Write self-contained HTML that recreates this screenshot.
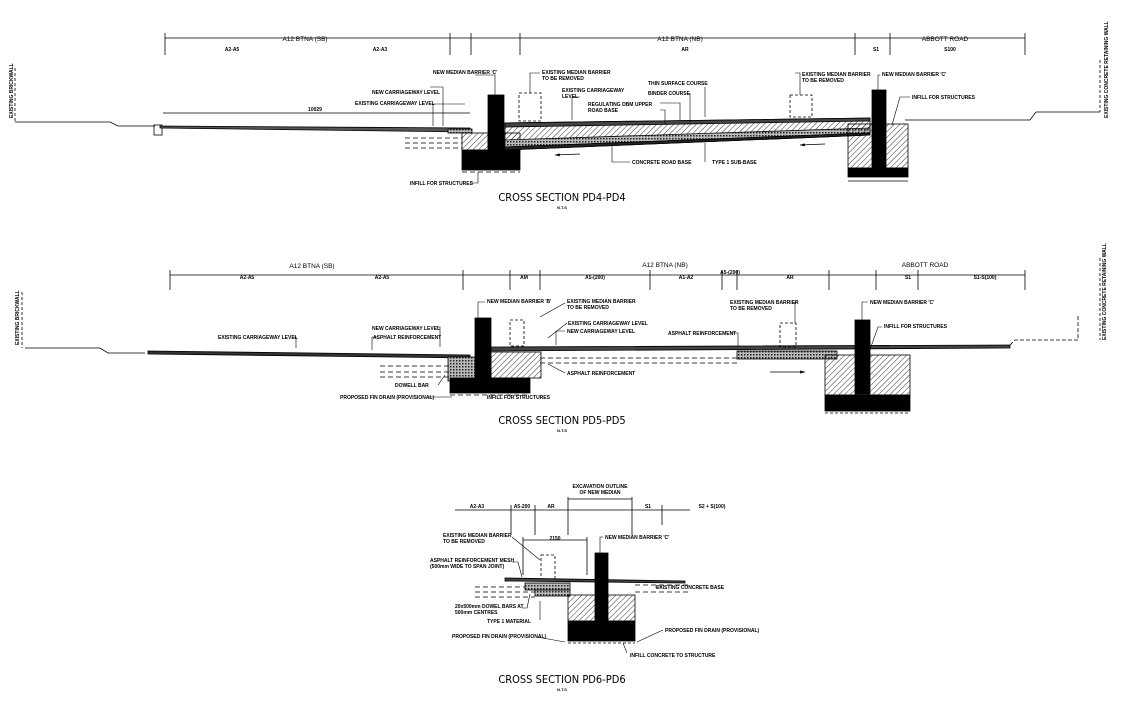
<!DOCTYPE html>
<html><head><meta charset="utf-8"><style>
html,body{margin:0;padding:0;background:#fff;}
svg{display:block}
text{font-family:"Liberation Sans",sans-serif;fill:#000}
.s{font-size:5px;font-weight:bold}
.m{font-size:6.5px}
.t{font-size:11px;font-family:"DejaVu Sans Condensed","Liberation Sans Narrow","Liberation Sans",sans-serif}
</style></head><body>
<svg width="1144" height="701" viewBox="0 0 1144 701" xmlns="http://www.w3.org/2000/svg">
<defs>
<pattern id="h" width="4" height="4" patternUnits="userSpaceOnUse" patternTransform="rotate(45)"><line x1="0" y1="0" x2="0" y2="4" stroke="#000" stroke-width="0.8"/></pattern>
<pattern id="d" width="3" height="3" patternUnits="userSpaceOnUse"><rect width="3" height="3" fill="#bbb"/><rect width="1.5" height="1.5" fill="#222"/></pattern>
<marker id="ar" markerWidth="6" markerHeight="4" refX="6" refY="2" orient="auto"><path d="M0 0 L6 2 L0 4 Z" fill="#000"/></marker>
</defs>
<g stroke="#000" fill="none" stroke-width="0.8">
<!-- ===== SECTION 1 ===== -->
<line x1="165" y1="38" x2="1025" y2="38"/>
<g><line x1="165" y1="33" x2="165" y2="55"/><line x1="450" y1="33" x2="450" y2="55"/><line x1="471" y1="33" x2="471" y2="55"/><line x1="520" y1="33" x2="520" y2="55"/><line x1="855" y1="33" x2="855" y2="55"/><line x1="890" y1="33" x2="890" y2="55"/><line x1="1025" y1="33" x2="1025" y2="55"/></g>
<line x1="15" y1="68" x2="15" y2="122" stroke-dasharray="3,2"/>
<path d="M15 122 L110 122 L118 126 L155 126"/>
<rect x="154" y="125" width="8" height="10"/>
<line x1="163" y1="113" x2="470" y2="113"/>
<path d="M160 126 L470 128 L470 132 L160 128 Z" fill="#555"/>
<rect x="448" y="129" width="24" height="4" fill="url(#d)"/>
<rect x="488" y="95" width="16" height="74" fill="#000"/>
<rect x="462" y="150" width="58" height="20" fill="#000"/>
<rect x="462" y="133" width="26" height="17" fill="url(#h)"/>
<rect x="504" y="133" width="16" height="17" fill="url(#h)"/>
<g stroke-dasharray="5,3"><line x1="405" y1="138" x2="462" y2="138"/><line x1="405" y1="143" x2="462" y2="143"/><line x1="405" y1="148" x2="462" y2="148"/><line x1="462" y1="172" x2="520" y2="172"/></g>
<rect x="519" y="93" width="22" height="28" stroke-dasharray="3,2"/>
<path d="M505 123 L870 118 L870 135 L505 150 Z" fill="url(#h)"/>
<path d="M505 123 L870 118 L870 121 L505 127 Z" fill="#444"/>
<path d="M505 140 L870 128 L870 133 L505 147 Z" fill="url(#d)"/>
<path d="M505 147 L870 133 L870 135 L505 150 Z" fill="#222"/>
<rect x="790" y="95" width="22" height="22" stroke-dasharray="3,2"/>
<rect x="872" y="90" width="14" height="80" fill="#000"/>
<rect x="848" y="124" width="60" height="44" fill="url(#h)"/>
<rect x="848" y="168" width="60" height="9" fill="#000"/>
<line x1="848" y1="181" x2="908" y2="181"/>
<path d="M905 120 L1030 120 L1036 112 L1100 112"/>
<line x1="1100" y1="60" x2="1100" y2="112" stroke-dasharray="3,2"/>
<line x1="580" y1="154" x2="555" y2="155" marker-end="url(#ar)"/><line x1="825" y1="144" x2="800" y2="145" marker-end="url(#ar)"/>
<g stroke-width="0.6"><path d="M475 75 L495 75 L495 95"/><path d="M540 73 L530 73 L530 93"/><path d="M580 97 L572 97 L572 120"/><path d="M660 110 L665 110 L665 125"/><path d="M660 103 L680 103 L680 120"/><path d="M705 87 L705 117"/><path d="M690 93 L690 122"/><path d="M630 162 L612 162 L612 145"/><path d="M705 162 L705 143"/><path d="M795 73 L800 73 L800 95"/><path d="M880 75 L878 75 L878 90"/><path d="M910 97 L900 97 L892 125"/><path d="M470 183 L478 183 L478 172"/><path d="M430 87 L443 87 L443 126"/><path d="M465 104 L433 104 L433 126"/></g>

<!-- ===== SECTION 2 ===== -->
<line x1="170" y1="275" x2="1025" y2="275"/>
<g><line x1="170" y1="270" x2="170" y2="290"/><line x1="463" y1="270" x2="463" y2="290"/><line x1="510" y1="270" x2="510" y2="290"/><line x1="540" y1="270" x2="540" y2="290"/><line x1="650" y1="270" x2="650" y2="290"/><line x1="722" y1="270" x2="722" y2="290"/><line x1="737" y1="270" x2="737" y2="290"/><line x1="829" y1="270" x2="829" y2="290"/><line x1="876" y1="270" x2="876" y2="290"/><line x1="918" y1="270" x2="918" y2="290"/><line x1="1025" y1="270" x2="1025" y2="290"/></g>
<line x1="22" y1="292" x2="22" y2="348" stroke-dasharray="3,2"/>
<path d="M25 348 L100 348 L108 353 L145 353"/>
<path d="M148 351 L470 355 L470 358 L148 354 Z" fill="#333"/>
<rect x="448" y="357" width="30" height="24" fill="url(#d)"/>
<rect x="475" y="318" width="16" height="74" fill="#000"/>
<rect x="450" y="378" width="80" height="15" fill="#000"/>
<rect x="491" y="352" width="50" height="26" fill="url(#h)"/>
<rect x="510" y="320" width="14" height="26" stroke-dasharray="3,2"/>
<g stroke-dasharray="5,3"><line x1="380" y1="366" x2="450" y2="366"/><line x1="380" y1="372" x2="450" y2="372"/><line x1="380" y1="377" x2="450" y2="377"/><line x1="450" y1="395" x2="530" y2="395"/><line x1="540" y1="358" x2="740" y2="358"/><line x1="540" y1="363" x2="740" y2="363"/></g>
<path d="M491 347 L1010 345 L1010 348 L491 351 Z" fill="#444"/>
<rect x="737" y="351" width="100" height="8" fill="url(#d)"/>
<rect x="780" y="323" width="16" height="24" stroke-dasharray="3,2"/>
<rect x="855" y="320" width="15" height="74" fill="#000"/>
<rect x="825" y="355" width="85" height="40" fill="url(#h)"/>
<rect x="825" y="395" width="85" height="16" fill="#000"/>
<line x1="825" y1="413" x2="910" y2="413" stroke-dasharray="3,2"/>
<path d="M1010 345 L1015 340 L1078 340 L1078 315" stroke-dasharray="4,2"/>
<line x1="1100" y1="258" x2="1100" y2="340" stroke-dasharray="3,2"/>
<line x1="770" y1="372" x2="805" y2="372" marker-end="url(#ar)"/>
<g stroke-width="0.6"><path d="M485 302 L478 302 L478 318"/><path d="M565 303 L540 317"/><path d="M567 323 L548 338"/><path d="M565 331 L556 331 L556 345"/><path d="M292 337 L296 337 L296 348"/><path d="M436 327 L440 327 L440 347"/><path d="M378 337 L372 337 L372 350"/><path d="M565 373 L548 364"/><path d="M485 392 L515 380"/><path d="M438 385 L445 375"/><path d="M428 397 L452 397"/><path d="M797 302 L795 302 L795 323"/><path d="M730 333 L738 333 L738 346"/><path d="M868 302 L862 302 L862 320"/><path d="M882 327 L878 327 L868 355"/></g>

<!-- ===== SECTION 3 ===== -->
<line x1="455" y1="510" x2="690" y2="510"/>
<g><line x1="511" y1="505" x2="511" y2="535"/><line x1="535" y1="505" x2="535" y2="535"/><line x1="568" y1="497" x2="568" y2="535"/><line x1="632" y1="497" x2="632" y2="535"/><line x1="662" y1="505" x2="662" y2="525"/></g>
<line x1="568" y1="499" x2="632" y2="499"/>
<line x1="523" y1="540" x2="587" y2="540"/><line x1="523" y1="537" x2="523" y2="575"/><line x1="587" y1="537" x2="587" y2="575"/>
<rect x="541" y="555" width="14" height="24" stroke-dasharray="3,2"/>
<path d="M505 578 L685 581 L685 583 L505 581 Z" fill="#444"/>
<rect x="525" y="583" width="45" height="7" fill="url(#d)"/>
<rect x="535" y="590" width="35" height="6" fill="url(#d)"/>
<rect x="595" y="553" width="13" height="87" fill="#000"/>
<rect x="568" y="595" width="67" height="26" fill="url(#h)"/>
<rect x="568" y="621" width="67" height="20" fill="#000"/>
<line x1="568" y1="643" x2="635" y2="643" stroke-dasharray="3,2"/>
<g stroke-dasharray="5,3"><line x1="475" y1="587" x2="525" y2="587"/><line x1="475" y1="592" x2="535" y2="592"/><line x1="475" y1="597" x2="535" y2="597"/><line x1="635" y1="585" x2="690" y2="585"/><line x1="635" y1="592" x2="690" y2="592"/></g>
<g stroke-width="0.6"><path d="M512 537 L540 560"/><path d="M512 562 L518 562 L522 577"/><path d="M522 608 L527 608 L530 594"/><path d="M540 620 L540 601"/><path d="M537 637 L565 642"/><path d="M663 630 L637 642"/><path d="M627 653 L623 643"/><path d="M603 537 L600 537 L600 553"/><path d="M662 587 L655 587"/></g>
</g>

<!-- TEXT section 1 -->
<g class="m"><text x="305" y="41" text-anchor="middle">A12 BTNA (SB)</text><text x="680" y="41" text-anchor="middle">A12 BTNA (NB)</text><text x="945" y="41" text-anchor="middle">ABBOTT ROAD</text></g>
<g class="s"><text x="232" y="51" text-anchor="middle">A2-A5</text><text x="380" y="51" text-anchor="middle">A2-A3</text><text x="685" y="51" text-anchor="middle">AR</text><text x="876" y="51" text-anchor="middle">S1</text><text x="950" y="51" text-anchor="middle">S100</text>
<text x="315" y="111" text-anchor="middle">10029</text>
<text x="433" y="74">NEW MEDIAN BARRIER 'C'</text>
<text x="542" y="74">EXISTING MEDIAN BARRIER</text><text x="542" y="80">TO BE REMOVED</text>
<text x="562" y="92">EXISTING CARRIAGEWAY</text><text x="562" y="98">LEVEL</text>
<text x="648" y="85">THIN SURFACE COURSE</text><text x="648" y="95">BINDER COURSE</text>
<text x="588" y="106">REGULATING DBM UPPER</text><text x="588" y="112">ROAD BASE</text>
<text x="632" y="164">CONCRETE ROAD BASE</text><text x="712" y="164">TYPE 1 SUB-BASE</text>
<text x="372" y="94">NEW CARRIAGEWAY LEVEL</text><text x="355" y="105">EXISTING CARRIAGEWAY LEVEL</text>
<text x="410" y="185">INFILL FOR STRUCTURES</text>
<text x="802" y="76">EXISTING MEDIAN BARRIER</text><text x="802" y="82">TO BE REMOVED</text>
<text x="882" y="76">NEW MEDIAN BARRIER 'C'</text><text x="912" y="99">INFILL FOR STRUCTURES</text></g>
<text class="t" x="562" y="201" text-anchor="middle">CROSS SECTION PD4-PD4</text>
<text class="s" x="562" y="209" text-anchor="middle" style="font-size:4px">N.T.S</text>
<text class="s" transform="translate(13,118) rotate(-90)">EXISTING BRICKWALL</text>
<text class="s" transform="translate(1108,118) rotate(-90)">EXISTING CONCRETE RETAINING WALL</text>

<!-- TEXT section 2 -->
<g class="m"><text x="312" y="268" text-anchor="middle">A12 BTNA (SB)</text><text x="665" y="267" text-anchor="middle">A12 BTNA (NB)</text><text x="925" y="267" text-anchor="middle">ABBOTT ROAD</text></g>
<g class="s"><text x="247" y="279" text-anchor="middle">A2-A5</text><text x="382" y="279" text-anchor="middle">A2-A5</text><text x="524" y="279" text-anchor="middle">AM</text><text x="595" y="279" text-anchor="middle">A5-(200)</text><text x="686" y="279" text-anchor="middle">A1-A2</text><text x="730" y="274" text-anchor="middle">A5-(200)</text><text x="790" y="279" text-anchor="middle">AR</text><text x="908" y="279" text-anchor="middle">S1</text><text x="985" y="279" text-anchor="middle">S1-S(100)</text>
<text x="487" y="303">NEW MEDIAN BARRIER 'B'</text><text x="567" y="303">EXISTING MEDIAN BARRIER</text><text x="567" y="309">TO BE REMOVED</text>
<text x="568" y="325">EXISTING CARRIAGEWAY LEVEL</text><text x="567" y="333">NEW CARRIAGEWAY LEVEL</text>
<text x="218" y="339">EXISTING CARRIAGEWAY LEVEL</text><text x="372" y="330">NEW CARRIAGEWAY LEVEL</text><text x="373" y="339">ASPHALT REINFORCEMENT</text>
<text x="567" y="375">ASPHALT REINFORCEMENT</text><text x="395" y="387">DOWELL BAR</text><text x="340" y="399">PROPOSED FIN DRAIN (PROVISIONAL)</text><text x="487" y="399">INFILL FOR STRUCTURES</text>
<text x="730" y="304">EXISTING MEDIAN BARRIER</text><text x="730" y="310">TO BE REMOVED</text><text x="668" y="335">ASPHALT REINFORCEMENT</text>
<text x="870" y="304">NEW MEDIAN BARRIER 'C'</text><text x="884" y="328">INFILL FOR STRUCTURES</text></g>
<text class="t" x="562" y="424" text-anchor="middle">CROSS SECTION PD5-PD5</text>
<text class="s" x="562" y="432" text-anchor="middle" style="font-size:4px">N.T.S</text>
<text class="s" transform="translate(19,345) rotate(-90)">EXISTING BRICKWALL</text>
<text class="s" transform="translate(1106,340) rotate(-90)">EXISTING CONCRETE RETAINING WALL</text>

<!-- TEXT section 3 -->
<g class="s"><text x="600" y="488" text-anchor="middle">EXCAVATION OUTLINE</text><text x="600" y="494" text-anchor="middle">OF NEW MEDIAN</text>
<text x="477" y="508" text-anchor="middle">A2-A3</text><text x="522" y="508" text-anchor="middle">A5-200</text><text x="551" y="508" text-anchor="middle">AR</text><text x="648" y="508" text-anchor="middle">S1</text><text x="712" y="508" text-anchor="middle">S2 + S(100)</text>
<text x="555" y="540" text-anchor="middle">2150</text>
<text x="443" y="537">EXISTING MEDIAN BARRIER</text><text x="443" y="543">TO BE REMOVED</text>
<text x="605" y="539">NEW MEDIAN BARRIER 'C'</text>
<text x="430" y="562">ASPHALT REINFORCEMENT MESH</text><text x="430" y="568">(500mm WIDE TO SPAN JOINT)</text>
<text x="656" y="589">EXISTING CONCRETE BASE</text>
<text x="455" y="608">20x500mm DOWEL BARS AT</text><text x="455" y="614">500mm CENTRES</text>
<text x="487" y="623">TYPE 1 MATERIAL</text><text x="452" y="638">PROPOSED FIN DRAIN (PROVISIONAL)</text>
<text x="665" y="632">PROPOSED FIN DRAIN (PROVISIONAL)</text><text x="630" y="657">INFILL CONCRETE TO STRUCTURE</text></g>
<text class="t" x="562" y="683" text-anchor="middle">CROSS SECTION PD6-PD6</text>
<text class="s" x="562" y="691" text-anchor="middle" style="font-size:4px">N.T.S</text>
</svg>
</body></html>
